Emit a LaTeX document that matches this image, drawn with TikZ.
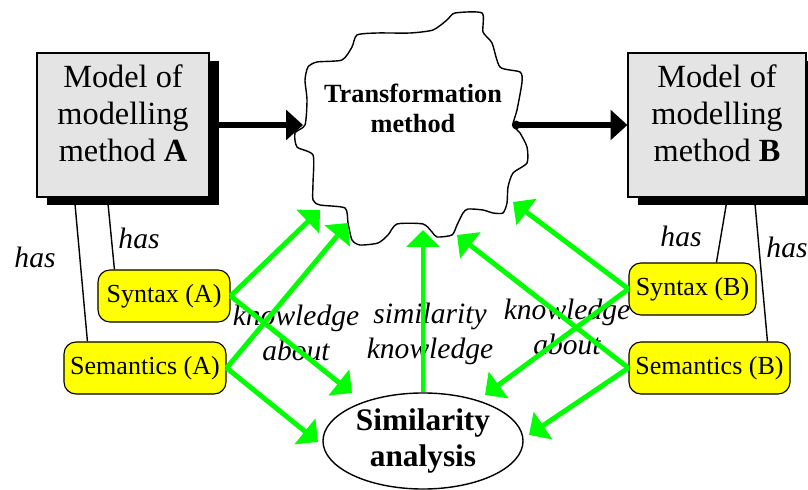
\documentclass[tikz,border=0pt]{standalone}
\usepackage{fontspec}
\setmainfont{Liberation Serif}
\usetikzlibrary{arrows.meta,shapes.geometric,shadows}
\definecolor{boxgray}{HTML}{E4E4E4}
\definecolor{synyellow}{HTML}{FFFF00}
\definecolor{knowgreen}{HTML}{00FF00}

\begin{document}
\begin{tikzpicture}[x=0.025cm, y=-0.025cm,
    modelbox/.style={draw=black, line width=0.8pt, fill=boxgray, minimum width=4.3cm, minimum height=3.6cm,
      drop shadow={shadow xshift=0.25cm, shadow yshift=-0.2cm, fill=black, opacity=1}},
    modeltext/.style={font=\fontsize{23}{26.3}\selectfont, align=center},
    synbox/.style={draw=black, line width=0.8pt, fill=synyellow, rounded corners=0.3cm, minimum height=1.3cm,
      inner sep=2pt, font=\fontsize{18.5}{22}\selectfont},
    simellipse/.style={draw=black, ellipse, line width=1pt, minimum width=5cm, minimum height=2.4cm, inner sep=0pt,
      align=center, font=\fontsize{22.3}{26.3}\selectfont\bfseries},
    transtext/.style={align=center, font=\fontsize{18.7}{21.3}\selectfont\bfseries},
    lbl/.style={align=center, font=\fontsize{21}{25}\selectfont\itshape},
    haslink/.style={draw=black, line width=1pt},
    flowarrow/.style={line width=4.5pt, {Circle[length=6pt]}-{Triangle[length=12pt,width=21pt]}},
    knowarrow/.style={draw=knowgreen, line width=3.5pt, -{Triangle[length=12pt,width=23pt]}}]
	\useasboundingbox (0,0) rectangle (808,490);

	% Models of the two methods
	\node[modelbox] (ma) at (123,125) {};
	\node[modeltext] (matext) at (123,113) {Model of\\modelling\\method \textbf{A}};
	\node[modelbox, minimum width=4.45cm] (mb) at (717,125) {};
	\node[modeltext] (mbtext) at (717,113) {Model of\\modelling\\method \textbf{B}};

	% Cloud of the transformation method
	\draw[line width=1pt, fill=white] plot[smooth cycle, tension=0.4] coordinates {
		(455,13) (482,13) (483,32) (492,43) (500,67) (520,72) (522,82) (517,110) (513,125)
		(520,133) (527,147) (527,163) (513,173) (508,187) (507,203) (503,213) (493,213)
		(483,210) (468,209) (463,213) (457,225) (452,235) (437,237) (432,232) (423,224)
		(397,224) (388,235) (378,243) (360,245) (352,240) (348,223) (345,208) (320,205)
		(313,200) (313,183) (313,155) (297,147) (295,133) (305,125) (307,100) (305,80)
		(308,67) (317,62) (342,60) (352,47) (357,35) (377,33) (410,33) (433,30) (447,20)};
	\node[transtext] (trans) at (413,108) {Transformation\\method};
	\coordinate (tin) at (303,125);
	\coordinate (tout) at (512,125);

	\draw[flowarrow] (ma.east) -- (tin);
	\draw[flowarrow] (tout) -- (mb.west);

	% Syntax and semantics
	\node[synbox, minimum width=3.3cm] (syA) at (164,296) {Syntax (A)};
	\node[synbox, minimum width=4.05cm] (seA) at (145,368) {Semantics (A)};
	\node[synbox, minimum width=3.175cm] (syB) at (692.5,289) {Syntax (B)};
	\node[synbox, minimum width=4.025cm] (seB) at (709.5,368) {Semantics (B)};

	\draw[haslink] ([xshift=0.95cm]ma.south west) -- ([xshift=0.6cm]seA.north west);
	\draw[haslink] ([xshift=1.775cm]ma.south west) -- ([xshift=0.425cm]syA.north west);
	\draw[haslink] ([xshift=2.5cm]mb.south west) -- ([xshift=2.2cm]syB.north west);
	\draw[haslink] ([xshift=3.175cm]mb.south west) -- ([xshift=3.475cm]seB.north west);

	\node[lbl] (hasa) at (35,257) {has};
	\node[lbl] (hasb) at (139,238) {has};
	\node[lbl] (hasc) at (681,236) {has};
	\node[lbl] (hasd) at (787,247) {has};

	% Similarity analysis
	\node[simellipse] (sim) at (423,441) {Similarity\\analysis};

	\node[lbl] (knowa) at (296,333) {knowledge\\about};
	\node[lbl] (simknow) at (430,334) {similarity\\knowledge};
	\node[lbl] (knowb) at (567,327) {knowledge\\about};

	% Arrow tips
	\coordinate (ka) at (320,210);
	\coordinate (kb) at (348,223);
	\coordinate (kc) at (352,393);
	\coordinate (kd) at (318,442);
	\coordinate (ke) at (424,230);
	\coordinate (kf) at (513,202);
	\coordinate (kg) at (485,395);
	\coordinate (kh) at (457,235);
	\coordinate (ki) at (529,435);

	\draw[knowarrow] (syA.east) -- (ka);
	\draw[knowarrow] (seA.east) -- (kb);
	\draw[knowarrow] (syA.east) -- (kc);
	\draw[knowarrow] (seA.east) -- (kd);
	\draw[knowarrow] (sim.north) -- (sim.north |- ke);
	\draw[knowarrow] (syB.west) -- (kf);
	\draw[knowarrow] (syB.west) -- (kg);
	\draw[knowarrow] (seB.west) -- (kh);
	\draw[knowarrow] (seB.west) -- (ki);
\end{tikzpicture}
\end{document}
